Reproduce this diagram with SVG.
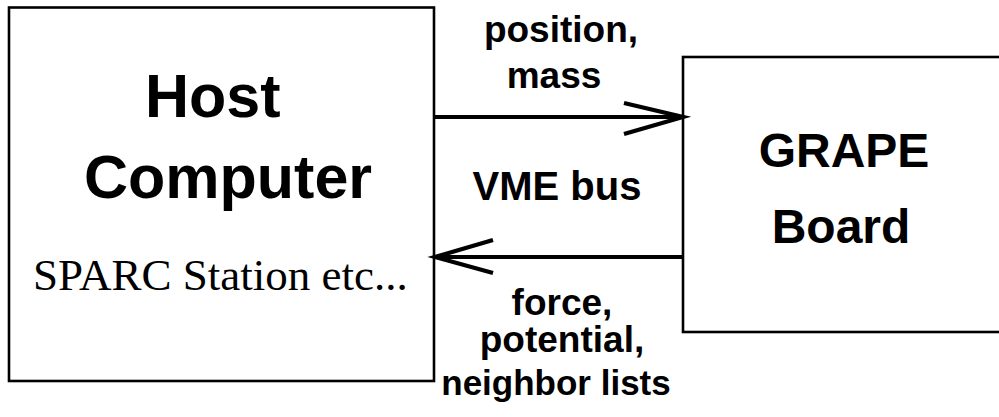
<svg xmlns="http://www.w3.org/2000/svg" width="999" height="417" viewBox="0 0 999 417">
<style>
.box{fill:#fff;stroke:#000;stroke-width:2.6}
.ln{fill:none;stroke:#000;stroke-width:4.2;stroke-linecap:butt}
.b{font-family:"Liberation Sans",Arial,sans-serif;font-weight:bold;fill:#000}
.s{font-family:"Liberation Serif","Times New Roman",serif;fill:#000}
</style>
<rect width="999" height="417" fill="#fff"/>
<g id="host">
<rect class="box" x="9" y="7.5" width="425" height="373.5"/>
<text class="b" x="145" y="117" font-size="61">Host</text>
<text class="b" x="84" y="198" font-size="61">Computer</text>
<text class="s" x="33" y="290" font-size="45">SPARC Station etc...</text>
</g>
<g id="grape">
<rect class="box" x="683" y="57" width="330" height="275"/>
<text class="b" x="844" y="167" font-size="48" text-anchor="middle">GRAPE</text>
<text class="b" x="841" y="243" font-size="48" text-anchor="middle">Board</text>
</g>
<g id="connectors">
<path class="ln" d="M434 117 H683 M624 103 L683 117 L624 134"/>
<path class="ln" d="M683 257 H435 M493 240 L435 257 L493 273"/>
</g>
<g id="labels">
<text class="b" font-size="37" text-anchor="middle"><tspan x="561" y="42">position,</tspan><tspan x="554" y="88">mass</tspan></text>
<text class="b" x="557" y="200" font-size="40" text-anchor="middle">VME bus</text>
<text class="b" font-size="37" text-anchor="middle"><tspan x="562" y="315">force,</tspan><tspan x="562" y="352">potential,</tspan></text>
<text class="b" x="556" y="395" font-size="35" text-anchor="middle">neighbor lists</text>
</g>
</svg>
